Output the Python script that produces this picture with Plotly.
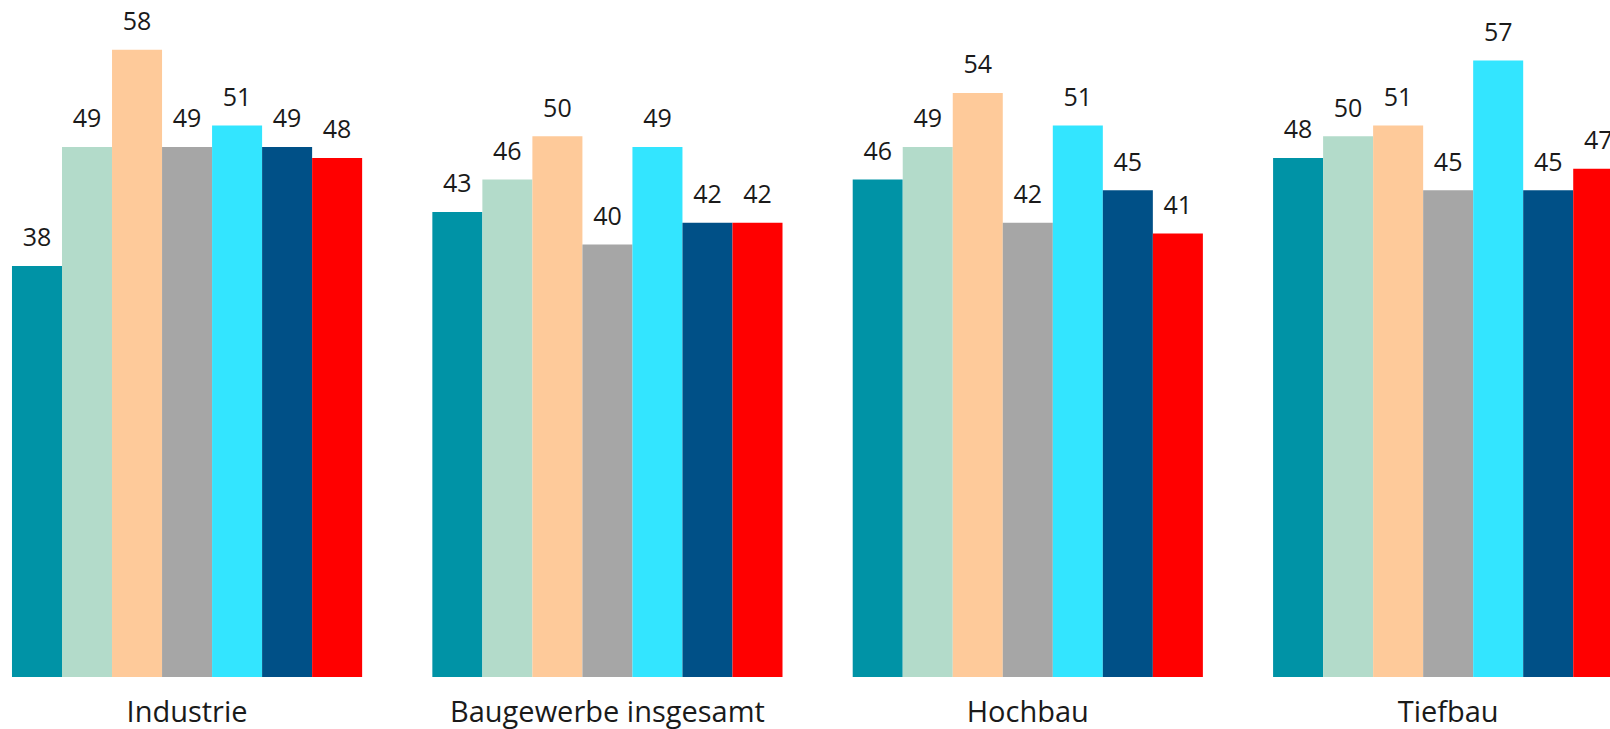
import plotly.graph_objects as go

categories = ["Industrie", "Baugewerbe insgesamt", "Hochbau", "Tiefbau"]
series_names = ["Reihe 1", "Reihe 2", "Reihe 3", "Reihe 4", "Reihe 5", "Reihe 6", "Reihe 7"]
s1 = [38, 43, 46, 48]
s2 = [49, 46, 49, 50]
s3 = [58, 50, 54, 51]
s4 = [49, 40, 42, 45]
s5 = [51, 49, 51, 57]
s6 = [49, 42, 45, 45]
s7 = [48, 42, 41, 47]
series_values = [s1, s2, s3, s4, s5, s6, s7]
colors = ["#0093A6", "#B3DBCA", "#FECA9A", "#A6A6A6", "#33E5FF", "#005087", "#FF0000"]

fig = go.Figure()
for name, vals, col in zip(series_names, series_values, colors):
    fig.add_trace(go.Bar(x=categories, y=vals, name=name, marker=dict(color=col, line=dict(width=0)),
                         offsetgroup=name, hoverinfo="skip"))
for name, vals in zip(series_names, series_values):
    fig.add_trace(go.Scatter(x=categories, y=vals, mode="markers+text", text=[str(v) for v in vals],
                             textposition="top center", offsetgroup=name,
                             marker=dict(size=20, color="rgba(0,0,0,0)"),
                             textfont=dict(family="Open Sans", size=25, color="#1a1a1a"),
                             showlegend=False, hoverinfo="skip"))

fig.update_layout(
    width=1610, height=729,
    margin=dict(l=0, r=0, t=0, b=52),
    barmode="group", bargap=0.167, bargroupgap=0,
    scattermode="group", scattergap=0.167,
    plot_bgcolor="white", paper_bgcolor="white",
    showlegend=False,
    xaxis=dict(range=[-0.445, 3.385], showgrid=False, zeroline=False, showline=False,
               tickfont=dict(family="Open Sans", size=29, color="#1a1a1a"),
               ticks="outside", ticklen=9, tickcolor="rgba(0,0,0,0)"),
    yaxis=dict(range=[0, 62.6], visible=False),
)
fig.write_html("out.html", config={"displayModeBar": False},
               post_script="document.body.style.margin='0';document.body.style.overflow='hidden';")
